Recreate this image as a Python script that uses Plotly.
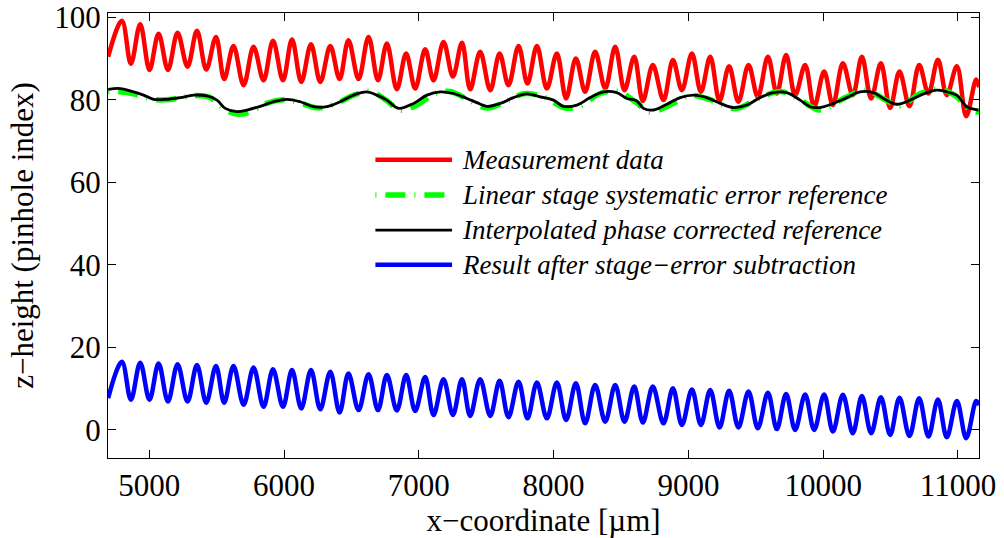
import plotly.graph_objects as go

# Crest / trough positions (µm) of the ripple shared by the measured and corrected profiles
x_ripple = [4695, 4797, 4864, 4933, 5002, 5069, 5139, 5210, 5284, 5354, 5423, 5495, 5556, 5625,
            5700, 5774, 5848, 5918, 5992, 6059, 6128, 6200, 6269, 6343, 6412, 6478, 6553, 6627,
            6697, 6763, 6837, 6906, 6973, 7047, 7109, 7183, 7253, 7320, 7381, 7455, 7530, 7599,
            7665, 7740, 7806, 7876, 7950, 8024, 8093, 8165, 8234, 8308, 8383, 8457, 8526, 8598,
            8662, 8736, 8815, 8885, 8952, 9026, 9093, 9162, 9231, 9302, 9371, 9446, 9515, 9590,
            9656, 9725, 9792, 9866, 9933, 10007, 10072, 10146, 10220, 10287, 10356, 10428, 10497,
            10566, 10640, 10712, 10781, 10851, 10917, 10992, 11061, 11135, 11157]

measurement = [90.4, 99.1, 88.7, 98.3, 87.2, 96.0, 87.2, 96.2, 88.0, 96.7, 87.3, 95.2, 85.0, 93.0,
               83.5, 92.8, 84.7, 94.3, 84.7, 94.6, 84.3, 93.4, 84.3, 93.0, 85.0, 94.4, 85.0, 95.2,
               84.7, 93.6, 82.5, 91.2, 82.7, 92.2, 84.7, 94.0, 85.6, 93.8, 82.5, 91.6, 82.3, 91.2,
               83.5, 93.0, 83.9, 93.0, 82.7, 91.2, 80.3, 90.0, 81.9, 91.6, 82.7, 92.8, 82.3, 90.4,
               79.7, 88.4, 79.9, 89.6, 82.3, 91.2, 81.9, 90.4, 79.7, 88.1, 79.5, 88.4, 80.7, 90.4,
               81.5, 90.8, 81.1, 88.4, 78.3, 86.8, 78.7, 88.8, 81.1, 90.4, 80.3, 88.8, 78.0,
               86.8, 78.4, 88.4, 81.5, 89.7, 81.1, 88.1, 76.0, 84.9, 83.0]

result = [7.7, 16.5, 7.3, 16.3, 7.3, 16.1, 6.9, 15.9, 6.9, 15.7, 6.6, 15.5, 6.6, 15.5,
          6.1, 15.1, 5.6, 14.7, 5.6, 14.5, 5.2, 14.5, 5.0, 14.1, 4.2, 13.7, 4.8, 13.5,
          4.8, 13.3, 4.7, 13.3, 4.6, 12.8, 3.6, 12.3, 3.6, 12.3, 3.4, 12.3, 3.4, 11.9,
          3.1, 11.7, 2.8, 11.5, 2.8, 11.5, 2.4, 11.3, 1.6, 10.9, 2.0, 10.9, 2.0, 10.5,
          1.8, 10.5, 1.6, 10.1, 1.2, 9.8, 1.2, 9.7, 0.6, 9.5, 0.6, 9.3, 0.4, 9.0,
          0.2, 8.7, 0.0, 8.6, 0.0, 8.6, -0.4, 8.5, -0.8, 8.2, -0.8, 7.9, -1.2,
          7.8, -1.5, 7.7, -1.6, 7.4, -1.8, 7.0, -2.0, 7.0, 6.0]

# Interpolated phase-corrected reference
x_interp = [4696, 4785, 4884, 4958, 5032, 5131, 5230, 5329, 5428, 5502, 5564, 5651, 5725, 5823,
            5922, 6021, 6120, 6219, 6318, 6417, 6515, 6615, 6689, 6763, 6850, 6961, 7060, 7159,
            7257, 7357, 7431, 7505, 7604, 7702, 7802, 7900, 7999, 8073, 8173, 8271, 8370, 8469,
            8544, 8618, 8667, 8741, 8840, 8939, 9038, 9137, 9236, 9334, 9434, 9532, 9631, 9730,
            9829, 9903, 9977, 10076, 10176, 10274, 10373, 10447, 10546, 10645, 10744, 10843,
            10917, 10991, 11066, 11152]
interp_ref = [82.5, 82.7, 81.9, 81.1, 80.1, 80.1, 80.5, 81.1, 80.9, 79.9, 77.9, 77.1, 77.5, 78.4,
              79.5, 80.1, 79.5, 78.3, 78.3, 79.5, 81.1, 81.9, 81.1, 79.9, 77.9, 79.1, 81.1, 81.9,
              81.5, 80.3, 79.3, 78.4, 79.1, 80.5, 81.4, 80.7, 79.9, 78.4, 78.7, 80.5, 81.9, 81.7,
              80.3, 79.7, 77.9, 77.5, 78.9, 80.5, 81.1, 80.5, 79.1, 78.1, 78.7, 80.5, 81.7, 81.7,
              79.9, 78.3, 78.1, 79.1, 80.5, 81.9, 81.7, 80.3, 78.9, 79.9, 81.4, 82.3,
              81.9, 81.1, 78.3, 77.5]

# Linear stage systematic error reference
x_stage = [4696, 4822, 4933, 5045, 5193, 5341, 5452, 5564, 5660, 5749, 5860, 6009, 6120, 6254,
           6380, 6528, 6639, 6751, 6862, 6973, 7122, 7233, 7366, 7507, 7641, 7789, 7938, 8086,
           8197, 8346, 8479, 8605, 8716, 8850, 9013, 9161, 9347, 9532, 9681, 9829, 9977, 10163,
           10311, 10460, 10571, 10719, 10868, 10979, 11090, 11157]
stage_ref = [82.0, 81.8, 81.0, 80.0, 80.2, 81.0, 80.5, 77.5, 76.5, 77.0, 79.0, 80.0, 79.2, 78.0,
             79.0, 81.2, 82.0, 80.0, 77.5, 78.5, 81.5, 82.0, 80.0, 78.0, 79.5, 81.5, 80.5, 78.0,
             78.5, 81.5, 82.0, 79.5, 77.0, 78.5, 81.0, 80.0, 77.8, 80.5, 82.0, 80.0, 77.5, 80.5,
             82.3, 80.0, 78.5, 81.5, 82.5, 81.0, 77.5, 77.0]

x_ticks = [5000, 6000, 7000, 8000, 9000, 10000, 11000]
y_ticks = [0, 20, 40, 60, 80, 100]

legend_labels = ["Measurement data",
                 "Linear stage systematic error reference",
                 "Interpolated phase corrected reference",
                 "Result after stage\u2212error subtraction"]

RED, GREEN, BLACK, BLUE = "#ff0000", "#00ff00", "#000000", "#0000ff"
GREEN_DASH = "1px,9px,20px,9px"
SERIF = "Liberation Serif"

fig = go.Figure()
fig.add_trace(go.Scatter(x=x_ripple, y=measurement, mode="lines", name=legend_labels[0],
                         line=dict(color=RED, width=4.5, shape="spline")))
fig.add_trace(go.Scatter(x=x_stage, y=stage_ref, mode="lines", name=legend_labels[1],
                         line=dict(color=GREEN, width=5.5, dash=GREEN_DASH, shape="spline")))
fig.add_trace(go.Scatter(x=x_interp, y=interp_ref, mode="lines", name=legend_labels[2],
                         line=dict(color=BLACK, width=2.8, shape="spline")))
fig.add_trace(go.Scatter(x=x_ripple, y=result, mode="lines", name=legend_labels[3],
                         line=dict(color=BLUE, width=4.5, shape="spline")))

# Legend-style key drawn inside the axes
key_styles = [dict(color=RED, width=4.5),
              dict(color=GREEN, width=5.5, dash=GREEN_DASH),
              dict(color=BLACK, width=2.8),
              dict(color=BLUE, width=4.5)]
key_rows = [0.670, 0.591, 0.512, 0.434]
for label, style, yy in zip(legend_labels, key_styles, key_rows):
    fig.add_shape(type="line", xref="paper", yref="paper",
                  x0=0.307, x1=0.395, y0=yy, y1=yy, line=style)
    fig.add_annotation(xref="paper", yref="paper", x=0.404, y=yy, xanchor="left",
                       yanchor="middle", text=f"<i>{label}</i>", showarrow=False,
                       font=dict(family=SERIF, size=27, color="black"))

axis_common = dict(showline=True, linecolor="black", linewidth=1, mirror="ticks",
                   ticks="inside", ticklen=8, tickwidth=1, tickcolor="black",
                   showgrid=False, zeroline=False, automargin=False,
                   ticklabeloverflow="allow",
                   tickfont=dict(family=SERIF, size=31, color="black"))

fig.update_xaxes(range=[4694, 11156], tickvals=x_ticks, ticktext=[str(v) for v in x_ticks],
                 title=dict(text="x\u2212coordinate [\u00b5m]", standoff=1,
                            font=dict(family=SERIF, size=31, color="black")),
                 **axis_common)
fig.update_yaxes(range=[-6.8, 101], tickvals=y_ticks, ticktext=[str(v) for v in y_ticks],
                 title=dict(text="z\u2212height (pinhole index)", standoff=11,
                            font=dict(family=SERIF, size=31, color="black")),
                 **axis_common)

fig.update_layout(width=1004, height=538, showlegend=False,
                  margin=dict(l=108, r=25, t=13, b=80),
                  paper_bgcolor="white", plot_bgcolor="white")

fig.write_html("out.html")
